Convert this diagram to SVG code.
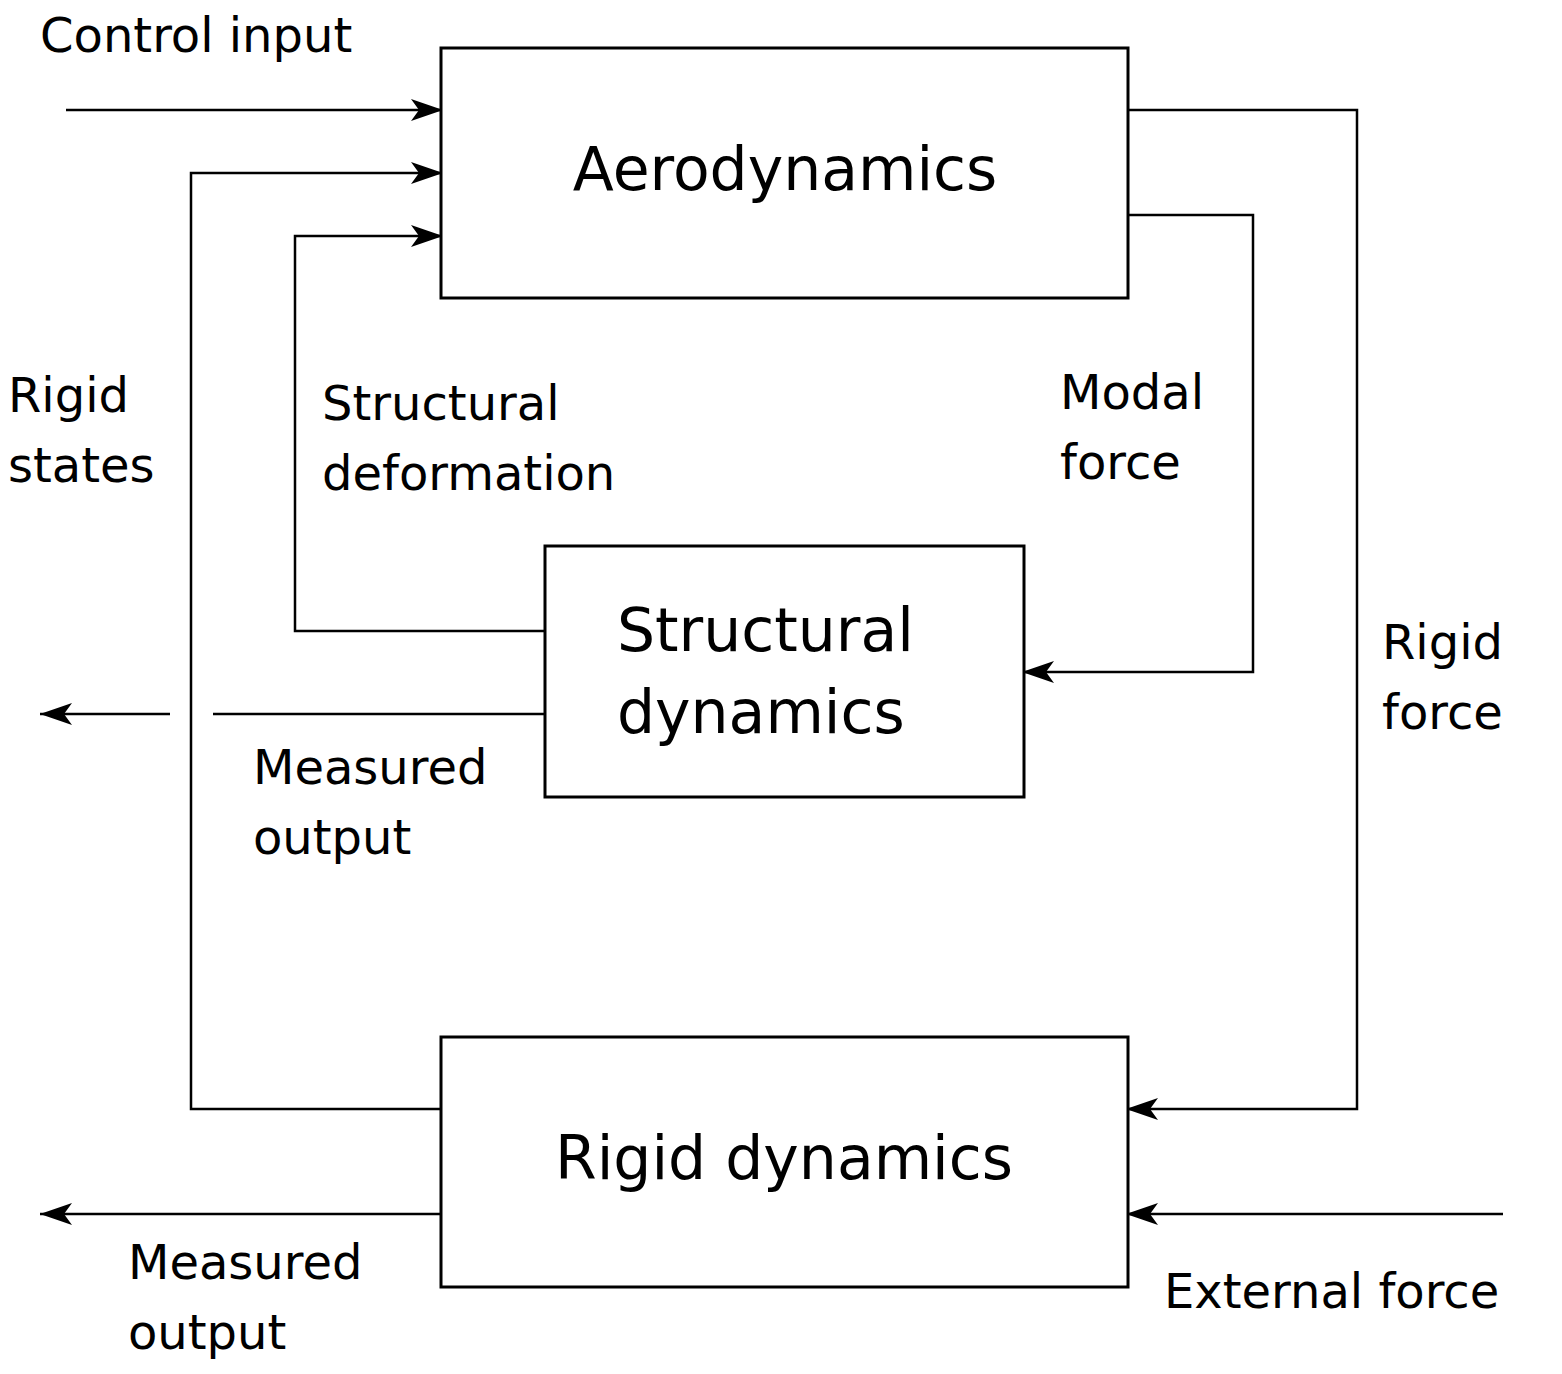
<svg xmlns="http://www.w3.org/2000/svg" width="1562" height="1374" viewBox="0 0 1562 1374">
<style>
.box{fill:#fff;stroke:#000;stroke-width:3}
.ln{fill:none;stroke:#000;stroke-width:2.5}
text{font-family:"DejaVu Sans",sans-serif;fill:#000}
.big{font-size:60px}
.lbl{font-size:48px}
</style>
<defs>
<marker id="ah" markerWidth="32" markerHeight="22" refX="32" refY="11" orient="auto" markerUnits="userSpaceOnUse">
<path d="M0,0 L32,11 L0,22 L8,11 Z" fill="#000"/>
</marker>
</defs>
<g id="connectors">
<path class="ln" d="M66,110 H443" marker-end="url(#ah)"/>
<path class="ln" d="M441,1109 H191 V173 H443" marker-end="url(#ah)"/>
<path class="ln" d="M545,631 H295 V236 H443" marker-end="url(#ah)"/>
<path class="ln" d="M1128,215 H1253 V672 H1022" marker-end="url(#ah)"/>
<path class="ln" d="M1128,110 H1357 V1109 H1126" marker-end="url(#ah)"/>
<path class="ln" d="M1503,1214 H1126" marker-end="url(#ah)"/>
<path class="ln" d="M441,1214 H40" marker-end="url(#ah)"/>
<path class="ln" d="M545,714 H213"/>
<path class="ln" d="M170,714 H40" marker-end="url(#ah)"/>
</g>
<g id="aero"><rect class="box" x="441" y="48" width="687" height="250"/><text class="big" x="785" y="190" text-anchor="middle">Aerodynamics</text></g>
<g id="struct"><rect class="box" x="545" y="546" width="479" height="251"/><text class="big" x="617" y="651">Structural</text><text class="big" x="617" y="733">dynamics</text></g>
<g id="rigid"><rect class="box" x="441" y="1037" width="687" height="250"/><text class="big" x="784" y="1179" text-anchor="middle">Rigid dynamics</text></g>
<g id="labels" class="lbl">
<text class="lbl" x="40" y="52">Control input</text>
<text class="lbl" x="8" y="412">Rigid</text><text class="lbl" x="8" y="482">states</text>
<text class="lbl" x="322" y="420">Structural</text><text class="lbl" x="322" y="490">deformation</text>
<text class="lbl" x="1060" y="409">Modal</text><text class="lbl" x="1060" y="479">force</text>
<text class="lbl" x="1382" y="659">Rigid</text><text class="lbl" x="1382" y="729">force</text>
<text class="lbl" x="253" y="784">Measured</text><text class="lbl" x="253" y="854">output</text>
<text class="lbl" x="128" y="1279">Measured</text><text class="lbl" x="128" y="1349">output</text>
<text class="lbl" x="1164" y="1308">External force</text>
</g>
</svg>
